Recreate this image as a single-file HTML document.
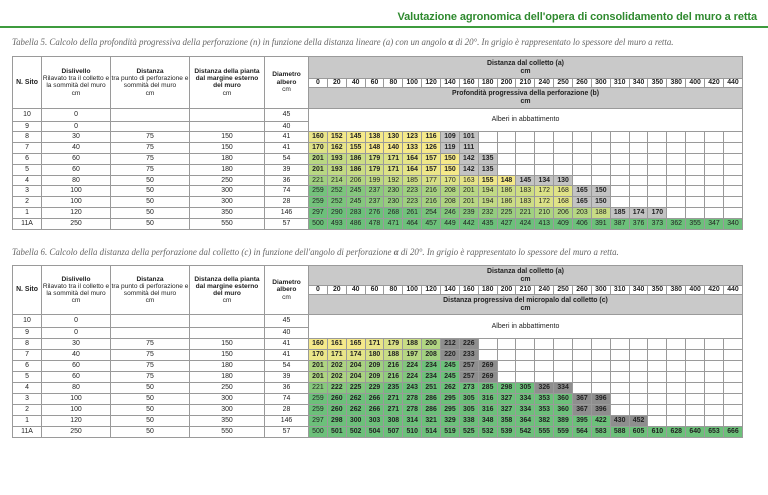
<!DOCTYPE html>
<html><head><meta charset="utf-8">
<style>
*{margin:0;padding:0;box-sizing:border-box}
body{width:768px;height:495px;background:#fff;position:relative;overflow:hidden;font-family:"Liberation Sans",sans-serif;}
.title{position:absolute;right:11px;top:11px;font-size:11px;color:#2f8a2f;font-weight:bold;letter-spacing:-0.1px}
.line{position:absolute;left:0;top:26px;width:768px;height:2px;background:#3d9b3d}
.cap{position:absolute;left:12px;font-family:"Liberation Serif",serif;font-style:italic;font-size:8.9px;color:#666;white-space:nowrap}
table{position:absolute;left:12px;width:731px;border-collapse:collapse;table-layout:fixed;font-size:6.9px;color:#222}
td{border:1px solid #9a9a9a;text-align:center;vertical-align:middle;padding:0;line-height:1.1;overflow:hidden;white-space:nowrap}
td.l{white-space:normal;font-size:6.6px}
.g{background:#c9c9c9;font-weight:bold}
.n{font-weight:bold;background:#fff}
.b{font-weight:bold}
</style></head><body>
<div class="title">Valutazione agronomica dell'opera di consolidamento del muro a retta</div>
<div class="line"></div>
<div class="cap" style="top:37px">Tabella 5. Calcolo della profondità progressiva della perforazione (n) in funzione della distanza lineare (a) con un angolo <b>α</b> di 20°. In grigio è rappresentato lo spessore del muro a retta.</div>
<table id="t1" style="top:56px"></table>
<div class="cap" style="top:247px">Tabella 6. Calcolo della distanza della perforazione dal colletto (c) in funzione dell'angolo di perforazione <b>α</b> di 20°. In grigio è rappresentato lo spessore del muro a retta.</div>
<table id="t2" style="top:265px"></table>
<script>
var cols=[0,20,40,60,80,100,120,140,160,180,200,210,240,250,260,300,310,340,350,380,400,420,440];
var left=[["10","0","","","45"],["9","0","","","40"],["8","30","75","150","41"],["7","40","75","150","41"],["6","60","75","180","54"],["5","60","75","180","39"],["4","80","50","250","36"],["3","100","50","300","74"],["2","100","50","300","28"],["1","120","50","350","146"],["11A","250","50","550","57"]];
var d1=[[160,152,145,138,130,123,116,109,101],[170,162,155,148,140,133,126,119,111],[201,193,186,179,171,164,157,150,142,135],[201,193,186,179,171,164,157,150,142,135],[221,214,206,199,192,185,177,170,163,155,148,145,134,130],[259,252,245,237,230,223,216,208,201,194,186,183,172,168,165,150],[259,252,245,237,230,223,216,208,201,194,186,183,172,168,165,150],[297,290,283,276,268,261,254,246,239,232,225,221,210,206,203,188,185,174,170],[500,493,486,478,471,464,457,449,442,435,427,424,413,409,406,391,387,376,373,362,355,347,340]];
var g1=[[7,8],[7,8],[8,9],[8,9],[11,13],[14,15],[14,15],[16,18],[99,99]];
var d2=[[160,161,165,171,179,188,200,212,226],[170,171,174,180,188,197,208,220,233],[201,202,204,209,216,224,234,245,257,269],[201,202,204,209,216,224,234,245,257,269],[221,222,225,229,235,243,251,262,273,285,298,305,326,334],[259,260,262,266,271,278,286,295,305,316,327,334,353,360,367,396],[259,260,262,266,271,278,286,295,305,316,327,334,353,360,367,396],[297,298,300,303,308,314,321,329,338,348,358,364,382,389,395,422,430,452],[500,501,502,504,507,510,514,519,525,532,539,542,555,559,564,583,588,605,610,628,640,653,666]];
var g2=[[7,8],[7,8],[8,9],[8,9],[12,13],[14,15],[14,15],[16,17],[99,99]];
function mix(t){t=Math.max(0,Math.min(1,t));var a=[245,233,138],b=[108,192,122];return "rgb("+a.map(function(x,i){return Math.round(x+(b[i]-x)*t)}).join(",")+")";}
function build(id,data,gr,lo,hi,sub,grey,boldFn,hh,rh){
 var h="<colgroup><col style='width:29px'><col style='width:69px'><col style='width:79px'><col style='width:75px'><col style='width:44px'>";
 for(var i=0;i<23;i++)h+="<col>";h+="</colgroup>";
 h+="<tr style='height:"+hh[0]+"px'><td rowspan=4 class='n'>N. Sito</td><td rowspan=4 class='l'><b>Dislivello</b><br>Rilavato tra il colletto e la sommità del muro<br>cm</td><td rowspan=4 class='l'><b>Distanza</b><br>tra punto di perforazione e sommità del muro<br>cm</td><td rowspan=4 class='l'><b>Distanza della pianta dal margine esterno del muro</b><br>cm</td><td rowspan=4 class='l'><b>Diametro albero</b><br>cm</td><td colspan=23 class='g'>Distanza dal colletto (a)<br>cm</td></tr>";
 h+="<tr style='height:"+hh[1]+"px'>";cols.forEach(function(c){h+="<td class='n'>"+c+"</td>"});h+="</tr>";
 h+="<tr style='height:"+hh[2]+"px'><td colspan=23 class='g'>"+sub+"<br>cm</td></tr><tr style='height:0'></tr>";
 left.forEach(function(r,ri){
  h+="<tr style='height:"+(ri==0?13:rh)+"px'>";r.forEach(function(v){h+="<td>"+v+"</td>"});
  if(ri==0)h+="<td colspan=23 rowspan=2 style='font-size:7px'>Alberi in abbattimento</td>";
  if(ri>=2){var k=ri-2,row=data[k];
   for(var j=0;j<23;j++){
    if(j<row.length){var v=row[j];var isg=j>=gr[k][0]&&j<=gr[k][1];
     var bg=isg?grey:mix((v-lo)/(hi-lo));var fw=(isg||boldFn(k,j))?"bold":"normal";
     h+="<td style='background:"+bg+";font-weight:"+fw+"'>"+v+"</td>";}
    else h+="<td></td>";}
  }
  h+="</tr>";});
 document.getElementById(id).innerHTML=h;}
build("t1",d1,g1,150,265,"Profondità progressiva della perforazione (b)","#c3c3c3",function(k,j){return k<4||(k==4&&j>=9&&j<=10)},[22,8,21],10.8);
build("t2",d2,g2,165,235,"Distanza progressiva del micropalo dal colletto (c)","#8e8e8e",function(k,j){return !(k>=4&&j==0)},[20,9,20],11);
</script>
</body></html>
